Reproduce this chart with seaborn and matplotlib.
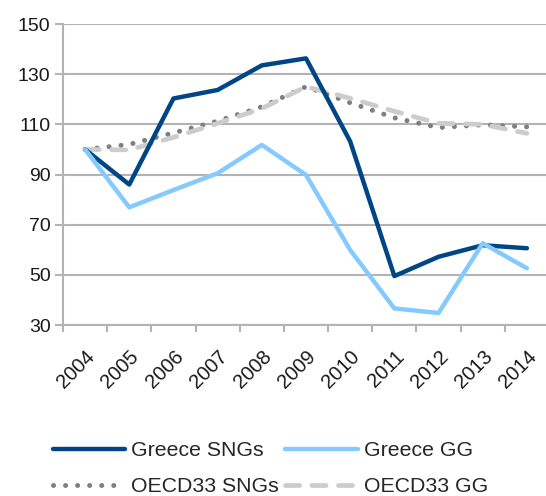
import matplotlib
matplotlib.use("Agg")
import matplotlib.pyplot as plt
import pandas as pd
import seaborn as sns

# データ
years = ["2004", "2005", "2006", "2007", "2008", "2009",
         "2010", "2011", "2012", "2013", "2014"]
greece_sngs = [100, 86, 120.3, 123.7, 133.5, 136.3, 103.2, 49.5, 57.2, 61.8, 60.6]
greece_gg = [100, 76.9, 83.8, 90.5, 101.8, 89.8, 59.9, 36.6, 34.8, 62.6, 52.6]
oecd_sngs = [100, 102, 106.6, 111.3, 117, 125, 118.6, 112.6, 108.7, 109.8, 109]
oecd_gg = [100, 99.8, 104.8, 110.4, 116.3, 125, 120.4, 115.2, 110.4, 110, 106.4]

df = pd.DataFrame({
    "x": range(len(years)),
    "Greece SNGs": greece_sngs,
    "Greece GG": greece_gg,
    "OECD33 SNGs": oecd_sngs,
    "OECD33 GG": oecd_gg,
})

sns.set_style("white")
plt.rcParams["font.family"] = ["Liberation Sans", "DejaVu Sans"]

fig = plt.figure(figsize=(5.46, 4.96), dpi=100)
ax = fig.add_axes([63 / 546, 1 - 325 / 496, (549 - 63) / 546, (325 - 24) / 496])

grid_c = "#b3b3b3"
ax.set_ylim(30, 150)
ax.set_yticks(range(30, 151, 20))
ax.yaxis.grid(True, color=grid_c, linewidth=1.5)
ax.set_axisbelow(True)
ax.set_xlim(-0.5, len(years) - 0.5)

# 系列ごとに描画
sns.lineplot(data=df, x="x", y="OECD33 SNGs", ax=ax, color="#7f7f7f",
             linewidth=3.6, linestyle=(0, (0.01, 2.4)), solid_capstyle="round",
             dash_capstyle="round", label="OECD33 SNGs")
sns.lineplot(data=df, x="x", y="OECD33 GG", ax=ax, color="#cccccc",
             linewidth=3.4, linestyle=(0, (3.0, 2.6)), dash_capstyle="round",
             label="OECD33 GG")
sns.lineplot(data=df, x="x", y="Greece SNGs", ax=ax, color="#004687",
             linewidth=3.2, label="Greece SNGs")
sns.lineplot(data=df, x="x", y="Greece GG", ax=ax, color="#85caff",
             linewidth=3.2, label="Greece GG")

for s in ["top", "right"]:
    ax.spines[s].set_visible(False)
for s in ["left", "bottom"]:
    ax.spines[s].set_color(grid_c)
    ax.spines[s].set_linewidth(1.5)

# x軸: 境界に目盛り、中央にラベル
ax.set_xticks([i - 0.5 for i in range(len(years) + 1)])
ax.set_xticklabels([])
ax.set_xticks(list(range(len(years))), minor=True)
ax.set_xticklabels(years, minor=True, rotation=45, ha="right",
                   rotation_mode="anchor", fontsize=14.5, color="#1a1a1a")
ax.tick_params(axis="x", which="major", length=5, width=1.5, color=grid_c,
               direction="out", bottom=True)
ax.tick_params(axis="x", which="minor", length=0, pad=16)
ax.tick_params(axis="y", length=6, width=1.5, color=grid_c, direction="out",
               left=True, labelsize=14, labelcolor="#1a1a1a", pad=3)
ax.set_xlabel("")
ax.set_ylabel("")

# 凡例（列優先で並ぶので順序を入れ替える）
handles, labels = ax.get_legend_handles_labels()
order = ["Greece SNGs", "OECD33 SNGs", "Greece GG", "OECD33 GG"]
hmap = dict(zip(labels, handles))
ax.legend([hmap[k] for k in order], order, ncol=2, frameon=False,
          fontsize=15.3, handlelength=3.4, handletextpad=0.3,
          columnspacing=0.3, labelspacing=0.8,
          loc="upper left", bbox_to_anchor=(44 / 546, 1 - 433 / 496),
          bbox_transform=fig.transFigure, borderaxespad=0)

fig.savefig("out.png", dpi=100)
